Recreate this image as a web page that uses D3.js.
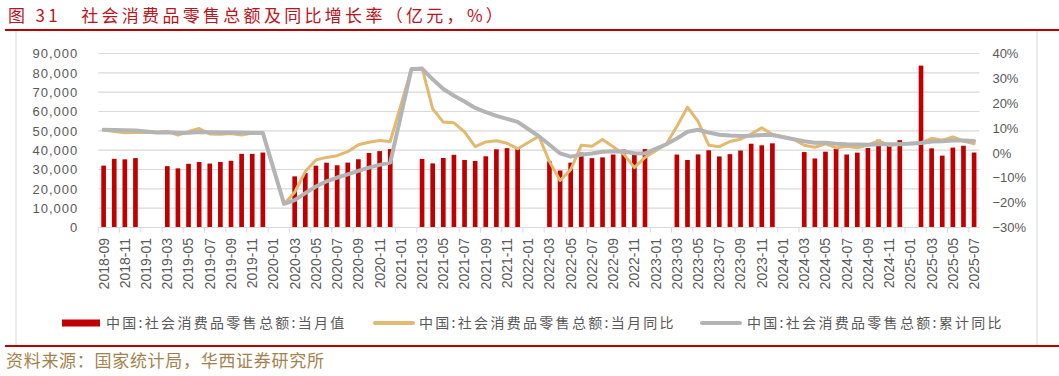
<!DOCTYPE html>
<html>
<head>
<meta charset="utf-8">
<script src="https://cdn.jsdelivr.net/npm/d3@7"></script>
<style>
    body { margin: 0; background: #ffffff; }
    svg { display: block; }
</style>
</head>
<body>
<div id="chart"></div>
<script>
// Month categories, 2018-09 .. 2025-07
let months = [
    "2018-09","2018-10","2018-11","2018-12",
    "2019-01","2019-02","2019-03","2019-04","2019-05","2019-06","2019-07","2019-08","2019-09","2019-10","2019-11","2019-12",
    "2020-01","2020-02","2020-03","2020-04","2020-05","2020-06","2020-07","2020-08","2020-09","2020-10","2020-11","2020-12",
    "2021-01","2021-02","2021-03","2021-04","2021-05","2021-06","2021-07","2021-08","2021-09","2021-10","2021-11","2021-12",
    "2022-01","2022-02","2022-03","2022-04","2022-05","2022-06","2022-07","2022-08","2022-09","2022-10","2022-11","2022-12",
    "2023-01","2023-02","2023-03","2023-04","2023-05","2023-06","2023-07","2023-08","2023-09","2023-10","2023-11","2023-12",
    "2024-01","2024-02","2024-03","2024-04","2024-05","2024-06","2024-07","2024-08","2024-09","2024-10","2024-11","2024-12",
    "2025-01","2025-02","2025-03","2025-04","2025-05","2025-06","2025-07"
];

// 当月值 (亿元)
let retailValue = [
    32005, 35534, 35260, 35893,
    null, null, 31726, 30586, 32956, 33878, 33073, 33896, 34495, 38104, 38094, 38777,
    null, null, 26450, 28178, 31973, 33526, 32203, 33571, 35295, 38576, 39514, 40566,
    null, null, 35484, 33153, 35945, 37586, 34925, 34395, 36833, 40454, 41043, 41269,
    null, null, 34233, 29483, 33547, 38742, 35870, 36258, 37745, 40271, 38615, 40542,
    null, null, 37715, 34910, 37803, 39951, 36761, 37933, 39826, 43333, 42505, 43550,
    null, null, 39020, 35699, 39211, 40732, 37757, 38726, 41112, 45396, 43763, 45172,
    null, 83731, 40940, 37174, 41326, 42287, 38780
];

// 当月同比 (%)
let monthlyYoy = [
    9.2, 8.6, 8.1, 8.2,
    null, 8.2, 8.7, 7.2, 8.6, 9.8, 7.6, 7.5, 7.8, 7.2, 8.0, 8.0,
    null, -20.5, -15.8, -7.5, -2.8, -1.8, -1.1, 0.5, 3.3, 4.3, 5.0, 4.6,
    null, 33.8, 34.2, 17.7, 12.4, 12.1, 8.5, 2.5, 4.4, 4.9, 3.9, 1.7,
    null, 6.7, -3.5, -11.1, -6.7, 3.1, 2.7, 5.4, 2.5, -0.5, -5.9, -1.8,
    null, 3.5, 10.6, 18.4, 12.7, 3.1, 2.5, 4.6, 5.5, 7.6, 10.1, 7.4,
    null, 5.5, 3.1, 2.3, 3.7, 2.0, 2.7, 2.1, 3.2, 4.8, 3.0, 3.7,
    null, 4.0, 5.9, 5.1, 6.4, 4.8, 3.7
];

// 累计同比 (%)
let cumulativeYoy = [
    9.3, 9.2, 9.1, 9.0,
    null, 8.2, 8.3, 8.0, 8.1, 8.4, 8.3, 8.2, 8.2, 8.1, 8.0, 8.0,
    null, -20.5, -19.0, -16.2, -13.5, -11.4, -9.9, -8.6, -7.2, -5.9, -4.8, -3.9,
    null, 33.8, 33.9, 29.6, 25.7, 23.0, 20.7, 18.1, 16.4, 14.9, 13.7, 12.5,
    null, 6.7, 3.3, -0.2, -1.5, -0.7, -0.2, 0.5, 0.7, 0.6, -0.1, -0.2,
    null, 3.5, 5.8, 8.5, 9.3, 8.2, 7.3, 7.0, 6.8, 6.9, 7.2, 7.2,
    null, 5.5, 4.7, 4.1, 4.1, 3.7, 3.5, 3.4, 3.3, 3.5, 3.5, 3.5,
    null, 4.0, 4.6, 4.7, 5.0, 5.0, 4.8
];

let leftTicks = [0, 10000, 20000, 30000, 40000, 50000, 60000, 70000, 80000, 90000];
let rightTicks = [-30, -20, -10, 0, 10, 20, 30, 40];

let seriesNames = ["中国:社会消费品零售总额:当月值", "中国:社会消费品零售总额:当月同比", "中国:社会消费品零售总额:累计同比"];
let titleText = "图 31\u3000社会消费品零售总额及同比增长率（亿元，%）";
let sourceText = "资料来源：国家统计局，华西证券研究所";

const W = 1059, H = 376;
const RED = "#C00000", GOLD = "#E2B96F", GRAY = "#B4B4B4", GRID = "#D9D9D9", TXT = "#595959";
const plot = { left: 98.3, right: 979.4, top: 53.5, bottom: 227.5 };
const cjk = "'Noto Sans CJK SC', 'Noto Sans', sans-serif";
const latin = "'Liberation Sans', Arial, sans-serif";

let svg = d3.select('#chart')
    .append('svg')
    .attr('width', W)
    .attr('height', H);

// Title + red rules
svg.append('text')
    .attr('x', 8)
    .attr('y', 22)
    .attr('fill', '#C0121B')
    .attr('font-family', cjk)
    .attr('font-size', 17)
    .attr('letter-spacing', 3.3)
    .text(titleText);

svg.append('line')
    .attr('x1', 5).attr('x2', W)
    .attr('y1', 30).attr('y2', 30)
    .attr('stroke', RED)
    .attr('stroke-width', 2);

// faint frame sides
svg.append('line')
    .attr('x1', 16).attr('x2', 16)
    .attr('y1', 31).attr('y2', 345)
    .attr('stroke', GRID);
svg.append('line')
    .attr('x1', 1037).attr('x2', 1037)
    .attr('y1', 31).attr('y2', 345)
    .attr('stroke', GRID);

svg.append('line')
    .attr('x1', 5).attr('x2', W)
    .attr('y1', 346).attr('y2', 346)
    .attr('stroke', RED)
    .attr('stroke-width', 2);

svg.append('text')
    .attr('x', 6)
    .attr('y', 367)
    .attr('fill', '#A5824D')
    .attr('font-family', cjk)
    .attr('font-size', 17)
    .attr('letter-spacing', 0.7)
    .text(sourceText);

// Scales
let x = d3.scaleBand()
    .domain(months)
    .range([plot.left, plot.right])
    .paddingInner(0.56)
    .paddingOuter(0.28);
let step = x.step();
let cx = m => x(m) + x.bandwidth() / 2;

let yL = d3.scaleLinear().domain([0, 90000]).range([plot.bottom, plot.top]);
let yR = d3.scaleLinear().domain([-30, 40]).range([plot.bottom, plot.top]);

// Gridlines (left axis ticks)
svg.append('g')
    .selectAll('line')
    .data(leftTicks)
    .join('line')
    .attr('x1', plot.left).attr('x2', plot.right)
    .attr('y1', d => yL(d)).attr('y2', d => yL(d))
    .attr('stroke', GRID)
    .attr('stroke-width', 1.2);

// Left axis
let leftAxis = svg.append('g')
    .attr('transform', `translate(${plot.left - 20},0)`)
    .call(d3.axisLeft(yL).tickValues(leftTicks).tickFormat(d3.format(',')).tickSize(0).tickPadding(0));
leftAxis.select('.domain').remove();
leftAxis.selectAll('text')
    .attr('fill', TXT)
    .attr('font-family', latin)
    .attr('font-size', 13)
    .attr('letter-spacing', 1);

// Right axis
let rightAxis = svg.append('g')
    .attr('transform', `translate(${plot.right + 13},0)`)
    .call(d3.axisRight(yR).tickValues(rightTicks).tickFormat(d => d3.format('')(d) + '%').tickSize(0).tickPadding(0));
rightAxis.select('.domain').remove();
rightAxis.selectAll('text')
    .attr('fill', TXT)
    .attr('font-family', latin)
    .attr('font-size', 13);

// X axis ticks every 2 months at band boundaries
let labelMonths = months.filter((m, i) => i % 2 === 0);
svg.append('g')
    .selectAll('line')
    .data(labelMonths)
    .join('line')
    .attr('x1', d => x(d) - (step - x.bandwidth()) / 2)
    .attr('x2', d => x(d) - (step - x.bandwidth()) / 2)
    .attr('y1', plot.bottom)
    .attr('y2', plot.bottom + 5)
    .attr('stroke', GRID);

svg.append('g')
    .selectAll('text')
    .data(labelMonths)
    .join('text')
    .attr('transform', d => `translate(${cx(d)},238) rotate(-90)`)
    .attr('dy', '0.35em')
    .attr('text-anchor', 'end')
    .attr('fill', TXT)
    .attr('font-family', latin)
    .attr('font-size', 14)
    .text(d => d);

// Bars
let barData = months.map((m, i) => ({ m: m, v: retailValue[i] })).filter(d => d.v !== null);
svg.append('g')
    .selectAll('rect')
    .data(barData)
    .join('rect')
    .attr('x', d => x(d.m))
    .attr('width', x.bandwidth())
    .attr('y', d => yL(d.v))
    .attr('height', d => yL(0) - yL(d.v))
    .attr('fill', RED);

// Lines (missing Jan values are bridged)
let line = d3.line()
    .x(d => cx(d.m))
    .y(d => yR(d.v));

function drawLine(values, color, width) {
    let pts = months.map((m, i) => ({ m: m, v: values[i] })).filter(d => d.v !== null);
    svg.append('path')
        .datum(pts)
        .attr('d', line)
        .attr('fill', 'none')
        .attr('stroke', color)
        .attr('stroke-width', width)
        .attr('stroke-linejoin', 'round')
        .attr('stroke-linecap', 'round');
}
drawLine(monthlyYoy, GOLD, 3);
drawLine(cumulativeYoy, GRAY, 4);

// x baseline
svg.append('line')
    .attr('x1', plot.left).attr('x2', plot.right)
    .attr('y1', plot.bottom).attr('y2', plot.bottom)
    .attr('stroke', GRID)
    .attr('stroke-width', 1.2);

// Legend
const legY = 323;
let legend = svg.append('g');
legend.append('rect')
    .attr('x', 62).attr('y', legY - 3.5)
    .attr('width', 38).attr('height', 7)
    .attr('fill', RED);
legend.append('line')
    .attr('x1', 375).attr('x2', 413)
    .attr('y1', legY).attr('y2', legY)
    .attr('stroke', GOLD).attr('stroke-width', 4).attr('stroke-linecap', 'round');
legend.append('line')
    .attr('x1', 702).attr('x2', 740)
    .attr('y1', legY).attr('y2', legY)
    .attr('stroke', GRAY).attr('stroke-width', 4).attr('stroke-linecap', 'round');

let legendX = [106, 419, 747];
legend.selectAll('text')
    .data(seriesNames)
    .join('text')
    .attr('x', (d, i) => legendX[i])
    .attr('y', legY)
    .attr('dy', '0.35em')
    .attr('fill', TXT)
    .attr('font-family', cjk)
    .attr('font-size', 14)
    .attr('letter-spacing', 2.3)
    .text(d => d);
</script>
</body>
</html>
